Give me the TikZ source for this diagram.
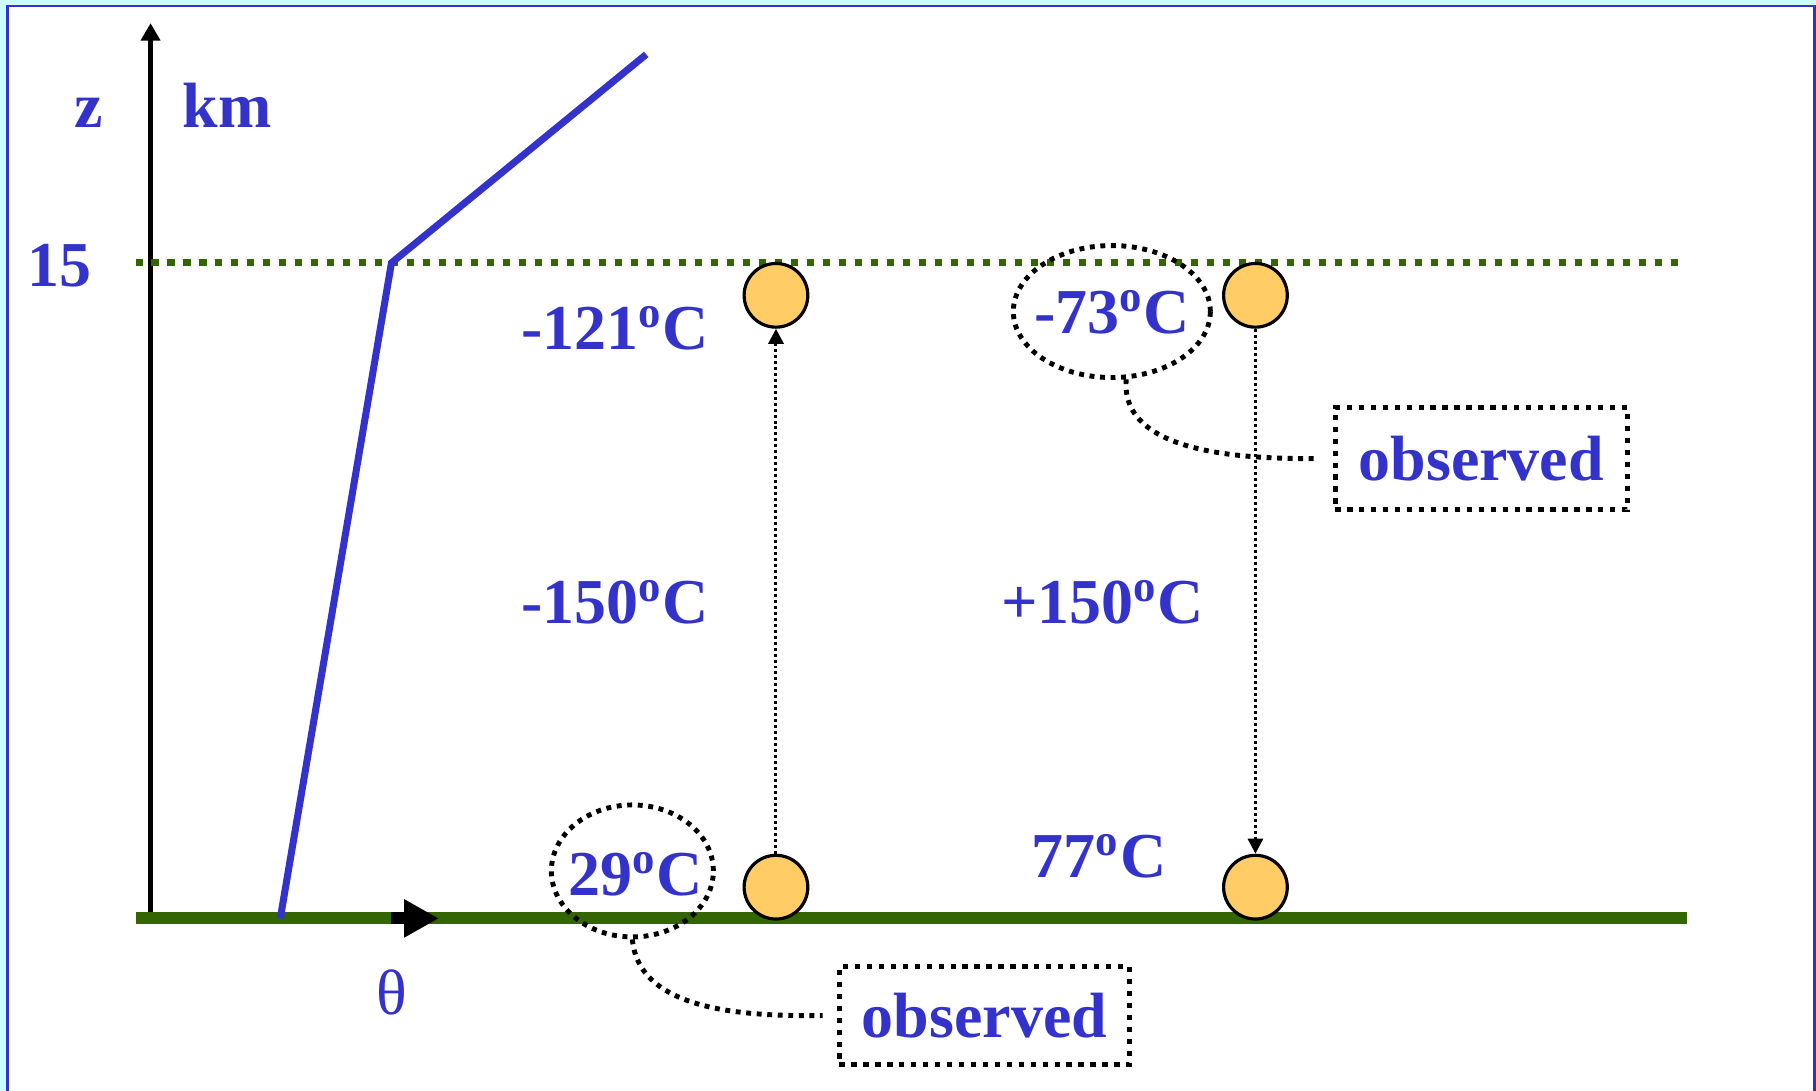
\documentclass[tikz,border=0pt]{standalone}
\usepackage{fontspec}
\setmainfont{Liberation Serif}
\usetikzlibrary{arrows.meta,shapes.geometric}

\definecolor{txtblue}{HTML}{3333CC}
\definecolor{groundgreen}{HTML}{336600}
\definecolor{parcel}{HTML}{FFCC66}
\definecolor{pagecyan}{HTML}{CCFFFF}

\newcommand{\degC}{\textsuperscript{o}C}

\begin{document}
\begin{tikzpicture}[x=0.01158cm, y=-0.01158cm, >=stealth, thick,
    lbl/.style={text=txtblue, font=\fontsize{18.2}{22}\selectfont\bfseries, anchor=base, inner sep=0pt},
    ball/.style={circle, draw=black, fill=parcel, line width=0.9pt, minimum size=0.637cm, inner sep=0pt},
    ring/.style={ellipse, draw, line width=1.4pt, dash pattern=on 1.4pt off 1.6pt, inner sep=0pt},
    tagbox/.style={draw, line width=1.5pt, dash pattern=on 1.5pt off 1.9pt, text=txtblue,
                   font=\fontsize{18.2}{22}\selectfont\bfseries, inner sep=0pt},
    lead/.style={line width=1.4pt, dash pattern=on 1.4pt off 1.6pt},
    lift/.style={-{Triangle[length=4.3pt,width=4.3pt]}, line width=0.85pt, dash pattern=on 0.85pt off 0.85pt}]
    \useasboundingbox (0,0) rectangle (1568,942);

    % Frame
    \fill[pagecyan] (0,0) rectangle (1568,942);
    \fill[white] (6,5) rectangle (1566,942);
    \draw[txtblue, line width=0.7pt] (6.5,942) -- (6.5,5.2) -- (1566.5,5.2) -- (1566.5,942);

    % Axes
    \coordinate (o) at (130,793);
    \coordinate (ztop) at (130,20);
    \draw[line width=1.4pt, -{Triangle[length=5pt,width=5.4pt]}] (o) -- (ztop);
    \node[lbl] (zlab) at (77,110) {z};
    \node[lbl] (kmlab) at (196,110) {km};
    \node[lbl] (h15) at (51,247) {15};

    % Ground and 15 km level
    \coordinate (gl) at (117,793);
    \coordinate (gr) at (1457,793);
    \draw[groundgreen, line width=3.4pt] (gl) -- (gr);
    \coordinate (tl) at (117,227);
    \coordinate (tr) at (1452,227);
    \draw[groundgreen, line width=2pt, dash pattern=on 2pt off 2.55pt] (tl) -- (tr);

    % Theta arrow
    \coordinate (th0) at (338,793);
    \coordinate (th1) at (379,793);
    \draw[line width=3.4pt, -{Triangle[length=9.9pt,width=10.2pt]}] (th0) -- (th1);
    \node[lbl, font=\fontsize{18.2}{22}\selectfont] (theta) at (338,876) {θ};

    % Profile
    \coordinate (p0) at (242,793);
    \coordinate (p1) at (338,227);
    \coordinate (p2) at (558,47);
    \draw[txtblue, line width=2pt] (p0) -- (p1) -- (p2);

    % Parcels
    \node[ball] (pTL) at (670,255) {};
    \node[ball] (pTR) at (1084,255) {};
    \node[ball] (pBL) at (670,766) {};
    \node[ball] (pBR) at (1084,766) {};
    \draw[lift] (pBL.north) -- (pTL.south);
    \draw[lift] (pTR.south) -- (pBR.north);

    % Temperatures
    \node[lbl] (t121) at (531,302) {-121\degC};
    \node[lbl] (t73) at (960,288) {-73\degC};
    \node[lbl] (t150c) at (531,538) {-150\degC};
    \node[lbl] (t150w) at (952,538) {+150\degC};
    \node[lbl] (t29) at (549,773) {29\degC};
    \node[lbl] (t77) at (949,758) {77\degC};

    % Observed
    \node[ring, minimum width=1.97cm, minimum height=1.32cm] (r73) at (960,269) {};
    \node[ring, minimum width=1.62cm, minimum height=1.32cm] (r29) at (546,752) {};
    \node[tagbox, minimum width=2.92cm, minimum height=1.02cm] (obs1) at (1279,396) {observed};
    \node[tagbox, minimum width=2.9cm, minimum height=0.98cm] (obs2) at (850,877) {observed};
    \draw[lead, shorten >=4.5pt] (r73.-78) to[out=-95, in=180, looseness=0.9] (obs1.west);
    \draw[lead, shorten >=4pt] (r29.-90) to[out=-85, in=180, looseness=0.9] (obs2.west);
\end{tikzpicture}
\end{document}
